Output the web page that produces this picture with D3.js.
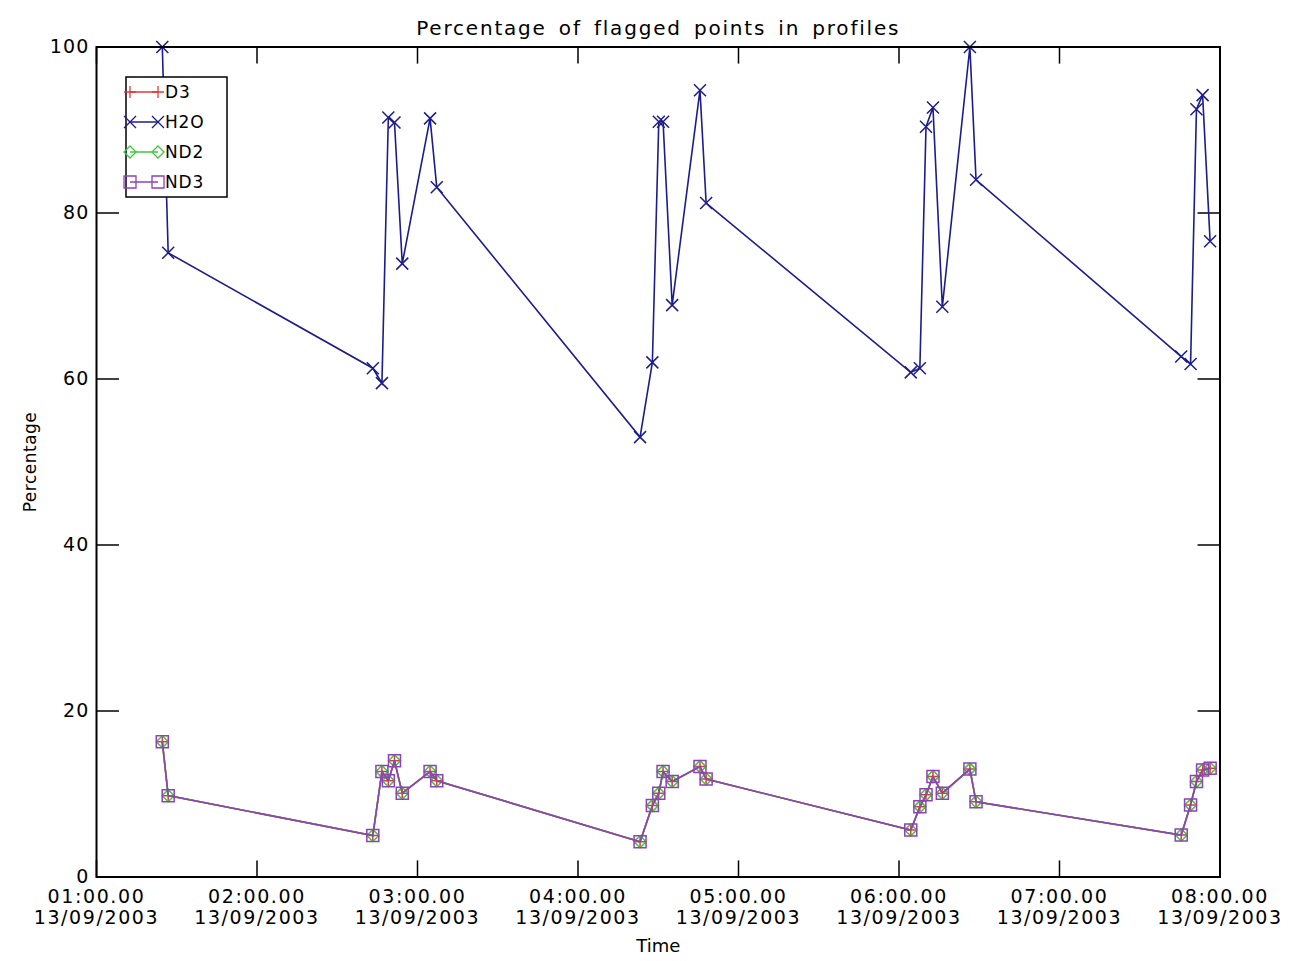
<!DOCTYPE html>
<html>
<head>
<meta charset="utf-8">
<script src="https://cdn.jsdelivr.net/npm/d3@7"></script>
<style>
  body { margin: 0; background: #fff; }
  svg text { font-family: "DejaVu Sans", sans-serif; fill: #000; }
</style>
</head>
<body>
<div class="chart"></div>
<script>
// profile times on 13/09/2003 (UTC)
const times = [
  "01:24:36", "01:26:48",
  "02:43:18", "02:46:42", "02:49:06", "02:51:24", "02:54:18", "03:04:42", "03:07:12",
  "04:23:12", "04:27:48", "04:30:12", "04:31:48", "04:35:12", "04:45:36", "04:47:54",
  "06:04:24", "06:07:48", "06:10:06", "06:12:42", "06:16:12", "06:26:30", "06:28:48",
  "07:45:30", "07:49:00", "07:51:12", "07:53:30", "07:56:18"
];

const h2o = [
  100, 75.2,
  61.3, 59.5, 91.5, 90.9, 73.9, 91.4, 83.1,
  53.0, 62.0, 91.0, 91.0, 68.9, 94.8, 81.2,
  60.8, 61.3, 90.4, 92.7, 68.7, 100, 84.0,
  62.7, 61.8, 92.5, 94.2, 76.6
];

// O3, NO2 and NO3 share the same values (markers overlap)
const o3 = [
  16.3, 9.8,
  5.0, 12.7, 11.6, 14.0, 10.1, 12.7, 11.6,
  4.25, 8.6, 10.1, 12.7, 11.5, 13.3, 11.8,
  5.66, 8.45, 9.9, 12.1, 10.1, 13.0, 9.06,
  5.06, 8.67, 11.5, 12.9, 13.1
];
const no2 = o3.slice();
const no3 = o3.slice();

const seriesNames = ["O3", "H2O", "NO2", "NO3"];
const legendLabels = ["D3", "H2O", "ND2", "ND3"];
const seriesColors = ["#e03a3a", "#1c1c8c", "#3cc83c", "#9040b8"];
const seriesMarkers = ["plus", "cross", "diamond", "square"];

const yTicks = [0, 20, 40, 60, 80, 100];

const w = 1296, h = 961;
const margin = { left: 96.5, right: 76, top: 47, bottom: 84 };

const parseTime = d3.utcParse("%Y-%m-%d %H:%M:%S");
const dates = times.map(t => parseTime("2003-09-13 " + t));

const svg = d3.select(".chart").append("svg")
  .attr("width", w).attr("height", h);

const x = d3.scaleUtc()
  .domain([parseTime("2003-09-13 01:00:00"), parseTime("2003-09-13 08:00:00")])
  .range([margin.left, w - margin.right]);

const y = d3.scaleLinear()
  .domain([0, 100])
  .range([h - margin.bottom, margin.top]);

const x0 = x.range()[0], x1 = x.range()[1];
const y0 = y.range()[0], y1 = y.range()[1];

// IDL style ticklen: 2% of the other axis size
const xTickLen = 0.02 * (y0 - y1);
const yTickLen = 0.02 * (x1 - x0);

const hourTicks = x.ticks(d3.utcHour.every(1));

// ticks on all four sides, pointing in
const ticks = svg.append("g").attr("stroke", "#000").attr("stroke-width", 1.5);
ticks.selectAll(".xb").data(hourTicks).enter().append("line")
  .attr("x1", d => x(d)).attr("x2", d => x(d))
  .attr("y1", y0).attr("y2", y0 - xTickLen);
ticks.selectAll(".xt").data(hourTicks).enter().append("line")
  .attr("x1", d => x(d)).attr("x2", d => x(d))
  .attr("y1", y1).attr("y2", y1 + xTickLen);
ticks.selectAll(".yl").data(yTicks).enter().append("line")
  .attr("x1", x0).attr("x2", x0 + yTickLen)
  .attr("y1", d => y(d)).attr("y2", d => y(d));
ticks.selectAll(".yr").data(yTicks).enter().append("line")
  .attr("x1", x1).attr("x2", x1 - yTickLen)
  .attr("y1", d => y(d)).attr("y2", d => y(d));

// tick labels
const fmtTime = d3.utcFormat("%H:%M.%S");
const fmtDate = d3.utcFormat("%d/%m/%Y");

const xLabels = svg.append("g")
  .attr("font-size", 19).attr("text-anchor", "middle").attr("letter-spacing", 1.6);
xLabels.selectAll(".t1").data(hourTicks).enter().append("text")
  .attr("x", d => x(d)).attr("y", y0 + 26)
  .text(d => fmtTime(d));
xLabels.selectAll(".t2").data(hourTicks).enter().append("text")
  .attr("x", d => x(d)).attr("y", y0 + 47)
  .text(d => fmtDate(d));

svg.append("g")
  .attr("font-size", 19).attr("text-anchor", "end").attr("letter-spacing", 1.2)
  .selectAll("text").data(yTicks).enter().append("text")
  .attr("x", x0 - 7).attr("y", d => y(d)).attr("dy", "0.3em")
  .text(d => d);

// series
const line = d3.line()
  .x(d => x(d.t))
  .y(d => y(d.v));

const markerPath = (type, cx, cy) => {
  const s = 6;
  if (type === "plus") return `M${cx - s},${cy}H${cx + s}M${cx},${cy - s}V${cy + s}`;
  if (type === "cross") return `M${cx - s},${cy - s}L${cx + s},${cy + s}M${cx - s},${cy + s}L${cx + s},${cy - s}`;
  if (type === "diamond") return `M${cx},${cy - s}L${cx + s},${cy}L${cx},${cy + s}L${cx - s},${cy}Z`;
  return `M${cx - s},${cy - s}H${cx + s}V${cy + s}H${cx - s}Z`;
};

const allValues = [o3, h2o, no2, no3];

allValues.forEach((vals, i) => {
  const data = vals.map((v, j) => ({ t: dates[j], v: v }));
  const g = svg.append("g").attr("class", "series " + seriesNames[i]);
  g.append("path")
    .datum(data)
    .attr("d", line)
    .attr("fill", "none")
    .attr("stroke", seriesColors[i])
    .attr("stroke-width", 1.6);
  g.selectAll("path.mk").data(data).enter().append("path")
    .attr("class", "mk")
    .attr("d", d => markerPath(seriesMarkers[i], x(d.t), y(d.v)))
    .attr("fill", "none")
    .attr("stroke", seriesColors[i])
    .attr("stroke-width", 1.5);
});

// frame
svg.append("rect")
  .attr("x", x0).attr("y", y1)
  .attr("width", x1 - x0).attr("height", y0 - y1)
  .attr("fill", "none").attr("stroke", "#000").attr("stroke-width", 2);

// legend (opaque box)
const lg = svg.append("g").attr("transform", "translate(126,77)");
lg.append("rect")
  .attr("width", 101).attr("height", 120)
  .attr("fill", "#fff").attr("stroke", "#000").attr("stroke-width", 1.5);
legendLabels.forEach((name, i) => {
  const ly = 15 + i * 30;
  lg.append("line")
    .attr("x1", 4).attr("x2", 32).attr("y1", ly).attr("y2", ly)
    .attr("stroke", seriesColors[i]).attr("stroke-width", 1.5);
  [4, 32].forEach(mx => {
    lg.append("path")
      .attr("d", markerPath(seriesMarkers[i], mx, ly))
      .attr("fill", "none")
      .attr("stroke", seriesColors[i])
      .attr("stroke-width", 1.3);
  });
  lg.append("text")
    .attr("x", 39).attr("y", ly).attr("dy", "0.36em")
    .attr("font-size", 17).attr("letter-spacing", 0.8)
    .text(name);
});

// title and axis titles
svg.append("text")
  .attr("x", (x0 + x1) / 2).attr("y", 35)
  .attr("text-anchor", "middle")
  .attr("font-size", 20).attr("letter-spacing", 1.8).attr("word-spacing", 4)
  .text("Percentage of flagged points in profiles");

svg.append("text")
  .attr("x", (x0 + x1) / 2).attr("y", y0 + 75)
  .attr("text-anchor", "middle")
  .attr("font-size", 18)
  .text("Time");

svg.append("text")
  .attr("transform", `translate(36,${(y0 + y1) / 2}) rotate(-90)`)
  .attr("text-anchor", "middle")
  .attr("font-size", 17).attr("letter-spacing", 0.5)
  .text("Percentage");
</script>
</body>
</html>
